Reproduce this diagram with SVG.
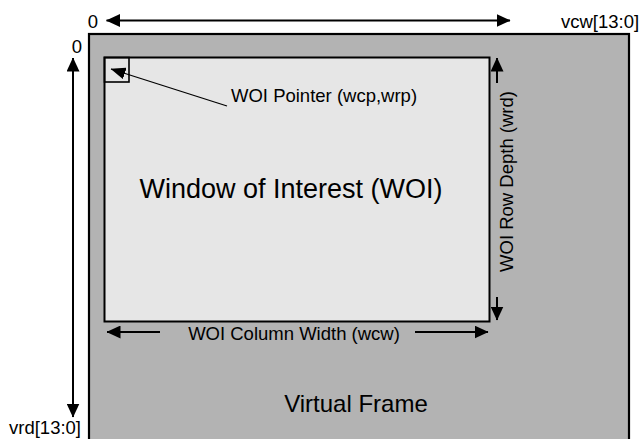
<svg xmlns="http://www.w3.org/2000/svg" width="640" height="439" viewBox="0 0 640 439">
<style>
text{font-family:"Liberation Sans",Arial,sans-serif;fill:#000}
.s{font-size:18.5px}
.ln{stroke:#000;stroke-width:2;fill:none}
.thin{stroke:#000;stroke-width:1.3;fill:none}
</style>
<defs>
<marker id="ah" viewBox="0 0 14 13" refX="13.5" refY="6.5" markerWidth="14" markerHeight="13" markerUnits="userSpaceOnUse" orient="auto-start-reverse"><path d="M0,0L14,6.5L0,13z" fill="#000"/></marker>
<marker id="ahp" viewBox="0 0 15 12" refX="14.5" refY="6" markerWidth="15" markerHeight="12" markerUnits="userSpaceOnUse" orient="auto"><path d="M0,0L15,6L0,12z" fill="#000"/></marker>
</defs>
<g id="virtual-frame">
<rect x="89" y="34" width="540" height="420" fill="#b3b3b3" stroke="#000" stroke-width="2.2"/>
<text x="356" y="412" font-size="24" text-anchor="middle">Virtual Frame</text>
</g>
<g id="woi">
<rect x="104.5" y="57.5" width="385" height="264" fill="#e6e6e6" stroke="#000" stroke-width="2"/>
<text x="291" y="198" font-size="27" text-anchor="middle">Window of Interest (WOI)</text>
</g>
<g id="woi-pointer">
<rect x="104.5" y="57.5" width="24.5" height="24.5" fill="none" stroke="#000" stroke-width="1.6"/>
<text x="231" y="102" class="s">WOI Pointer (wcp,wrp)</text>
</g>
<g id="labels">
<text x="98" y="28" class="s" text-anchor="end">0</text>
<text x="561" y="28" class="s">vcw[13:0]</text>
<text x="82" y="53" class="s" text-anchor="end">0</text>
<text x="81" y="434" class="s" text-anchor="end">vrd[13:0]</text>
<text class="s" text-anchor="middle" transform="translate(513,181.5) rotate(-90)">WOI Row Depth (wrd)</text>
<text x="294" y="340" class="s" text-anchor="middle">WOI Column Width (wcw)</text>
</g>
<g id="connectors">
<line class="ln" x1="106.5" y1="20.5" x2="510" y2="20.5" marker-start="url(#ah)" marker-end="url(#ah)"/>
<line class="ln" x1="73" y1="58" x2="73" y2="417" marker-start="url(#ah)" marker-end="url(#ah)"/>
<line class="ln" x1="497" y1="83" x2="497" y2="58" marker-end="url(#ah)"/>
<line class="ln" x1="497" y1="297" x2="497" y2="320" marker-end="url(#ah)"/>
<line class="ln" x1="160" y1="332" x2="107" y2="332" marker-end="url(#ah)"/>
<line class="ln" x1="415" y1="332" x2="488" y2="332" marker-end="url(#ah)"/>
<line class="thin" x1="227" y1="106" x2="111" y2="69" marker-end="url(#ahp)"/>
</g>
</svg>
